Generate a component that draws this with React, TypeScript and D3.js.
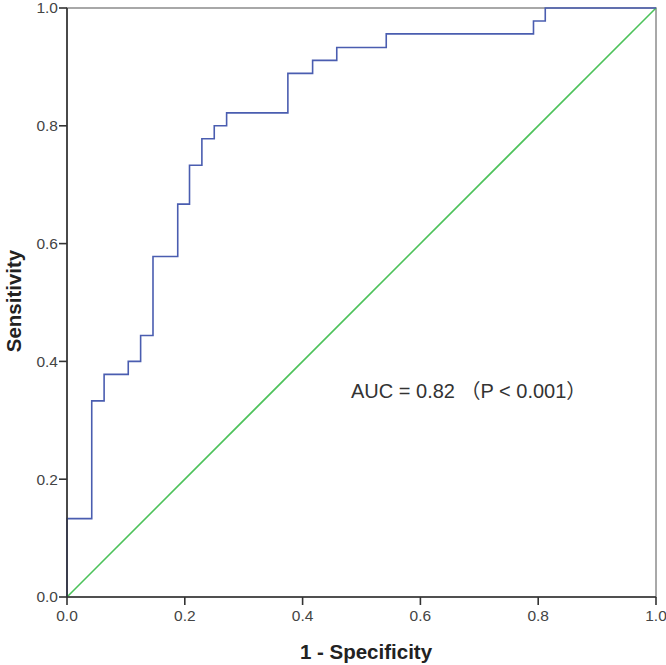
import React from "react";
import * as d3 from "d3";

const fpr = [0, 0, 0.042, 0.063, 0.104, 0.125, 0.146, 0.188, 0.208, 0.229, 0.25, 0.271, 0.375, 0.417, 0.458, 0.542, 0.792, 0.812, 1];
const tpr = [0, 0.133, 0.333, 0.378, 0.4, 0.444, 0.578, 0.667, 0.733, 0.778, 0.8, 0.822, 0.889, 0.911, 0.933, 0.956, 0.978, 1, 1];
const refLine = [0, 1];
const ticks = [0, 0.2, 0.4, 0.6, 0.8, 1.0];
const xTitle = "1 - Specificity";
const yTitle = "Sensitivity";
const annotation = "AUC = 0.82 （P < 0.001）";

const W = 666, H = 665;
const L = 67, R = 656, T = 8, B = 597;
const FONT = "'Liberation Sans', Arial, 'Noto Sans CJK SC', sans-serif";

export default function App() {
  const x = d3.scaleLinear().domain([0, 1]).range([L, R]);
  const y = d3.scaleLinear().domain([0, 1]).range([B, T]);
  const pts: [number, number][] = fpr.map((f, i) => [f, tpr[i]]);
  const line = d3.line<[number, number]>().x(d => x(d[0])).y(d => y(d[1])).curve(d3.curveStepAfter);
  const diag = d3.line<number>().x(d => x(d)).y(d => y(d));
  return (
    <svg width={W} height={H} style={{ position: "absolute", left: 0, top: 0, background: "#fff" }}>
      <rect x={L} y={T} width={R - L} height={B - T} fill="none" stroke="#8c8c8c" strokeWidth={1.5} />
      <path d={diag(refLine) || ""} fill="none" stroke="#4cc25a" strokeWidth={1.6} />
      <path d={line(pts) || ""} fill="none" stroke="#4a5db0" strokeWidth={1.6} />
      <line x1={L} x2={L} y1={T} y2={B} stroke="#333" strokeWidth={1.6} />
      <line x1={L} x2={R} y1={B} y2={B} stroke="#333" strokeWidth={1.6} />
      {ticks.map(t => (
        <g key={"y" + t}>
          <line x1={L - 8} x2={L} y1={y(t)} y2={y(t)} stroke="#333" strokeWidth={1.6} />
          <text x={L - 9} y={y(t)} dy="0.35em" textAnchor="end" fontSize={15.5} fill="#444" fontFamily={FONT}>{t.toFixed(1)}</text>
        </g>
      ))}
      {ticks.map(t => (
        <g key={"x" + t}>
          <line x1={x(t)} x2={x(t)} y1={B} y2={B + 8} stroke="#333" strokeWidth={1.6} />
          <text x={x(t)} y={B + 19} dy="0.35em" textAnchor="middle" fontSize={15.5} fill="#444" fontFamily={FONT}>{t.toFixed(1)}</text>
        </g>
      ))}
      <text x={366} y={652} dy="0.35em" textAnchor="middle" fontSize={20.5} fontWeight="bold" fill="#222" fontFamily={FONT}>{xTitle}</text>
      <text transform={`translate(14,301) rotate(-90)`} dy="0.35em" textAnchor="middle" fontSize={20.5} fontWeight="bold" fill="#222" fontFamily={FONT}>{yTitle}</text>
      <text x={351} y={398} fontSize={20} fill="#333" fontFamily={FONT}>{annotation}</text>
    </svg>
  );
}
